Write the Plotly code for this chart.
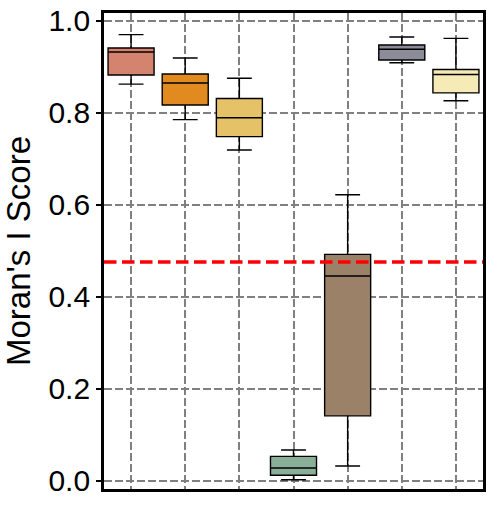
import plotly.graph_objects as go

positions = [1, 2, 3, 4, 5, 6, 7]
lower_whisker = [0.862, 0.785, 0.719, 0.002, 0.032, 0.9087, 0.826]
q1_vals = [0.882, 0.8167, 0.748, 0.012, 0.141, 0.9145, 0.843]
medians = [0.932, 0.8645, 0.789, 0.0275, 0.445, 0.938, 0.883]
q3_vals = [0.9406, 0.884, 0.831, 0.053, 0.492, 0.947, 0.894]
upper_whisker = [0.9696, 0.919, 0.875, 0.0667, 0.6217, 0.9645, 0.9616]
colors = ["#D4836F", "#E08A1F", "#E5C168", "#8AAF98", "#9C8169", "#8C8C99", "#F6EAB7"]
threshold = 0.4754
y_ticks = [0.0, 0.2, 0.4, 0.6, 0.8, 1.0]

fig = go.Figure()
for i in range(len(positions)):
    fig.add_trace(go.Box(
        x=[positions[i]],
        q1=[q1_vals[i]], median=[medians[i]], q3=[q3_vals[i]],
        lowerfence=[lower_whisker[i]], upperfence=[upper_whisker[i]],
        fillcolor=colors[i],
        line=dict(color="black", width=1.4),
        width=0.85, whiskerwidth=0.54,
        boxpoints=False, showlegend=False, hoverinfo="skip",
    ))

fig.add_shape(type="line", xref="paper", yref="y", x0=0, x1=1, y0=threshold, y1=threshold,
              line=dict(color="#FF0000", width=3.3, dash="12.5px,5.5px"), layer="above")

fig.update_layout(
    width=494, height=509,
    margin=dict(l=104, r=11, t=13, b=20),
    plot_bgcolor="white", paper_bgcolor="white",
    font=dict(family="Liberation Sans, Arial, sans-serif", color="black"),
    showlegend=False,
)
fig.update_xaxes(
    range=[0.5, 7.5], tickvals=positions, showticklabels=False, ticks="",
    showgrid=True, gridcolor="#808080", gridwidth=2, griddash="7.5px,3.5px",
    showline=True, linecolor="black", linewidth=2.7, mirror=True, zeroline=False,
)
fig.update_yaxes(
    range=[-0.018, 1.0167], tickvals=y_ticks, ticktext=[f"{v:.1f}" for v in y_ticks],
    ticks="outside", ticklen=5, tickwidth=1.5, tickcolor="black",
    tickfont=dict(size=30, color="black"),
    title=dict(text="Moran's I Score", font=dict(size=33, color="black"), standoff=8),
    showgrid=True, gridcolor="#808080", gridwidth=2, griddash="7.5px,3.5px",
    showline=True, linecolor="black", linewidth=2.7, mirror=True, zeroline=False,
    automargin=False,
)

fig.write_html("out.html")
